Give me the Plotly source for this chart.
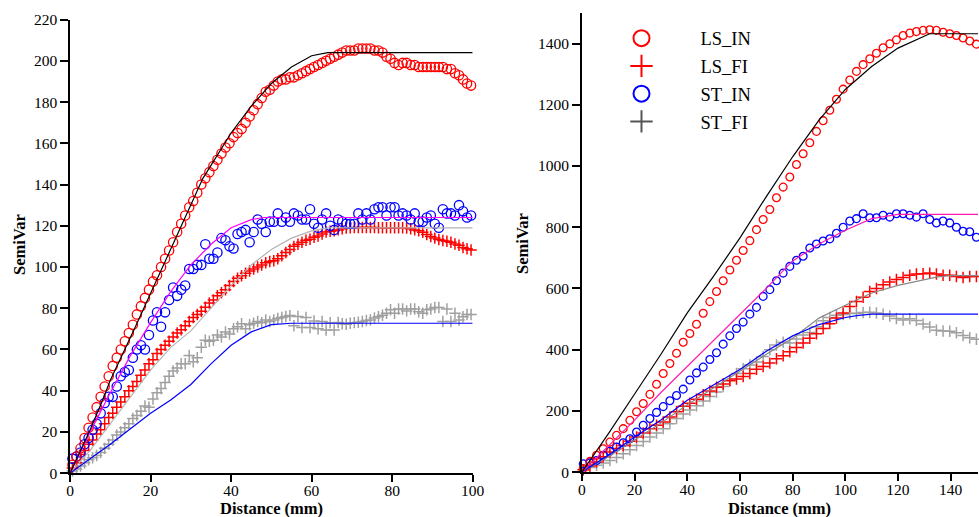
import plotly.graph_objects as go

# ---------------- Left panel data (lag distance in mm) ----------------
LAG_L = [round(0.6 + i, 1) for i in range(100)]

LS_IN_L = [4, 8, 12, 17, 22, 27, 32, 37, 42, 47,
           52, 56, 60, 64, 68, 72, 77, 81, 85, 89,
           93, 96, 100, 104, 108, 112, 117, 121, 125, 129,
           132, 136, 140, 143, 146, 149, 152, 155, 158, 160,
           163, 165, 167, 170, 173, 176, 179, 182, 185, 186,
           188, 190, 191, 191, 192, 192, 193, 194, 195, 196,
           197, 198, 199, 200, 201, 202, 203, 204, 205, 205,
           205, 206, 206, 206, 206, 205, 205, 204, 202, 201,
           199, 198, 199, 199, 198, 198, 197, 197, 197, 197,
           197, 197, 197, 196, 196, 194, 193, 191, 189, 188]

LS_FI_L = [2.5, 5, 9, 11, 14, 16, 19, 21, 24, 27,
           29, 32, 34.5, 37, 40, 42, 44.5, 47.5, 50, 53,
           55, 58, 60, 62, 64, 66, 68, 69.5, 71.5, 73.5,
           75.5, 77, 78.5, 80.5, 82.5, 84, 86, 87.5, 89, 91,
           93, 94.5, 95.8, 97, 98, 99, 100, 101, 102, 102.7,
           103, 104, 105.5, 107, 108.5, 110, 111, 112, 113, 113.5,
           114.4, 115, 116, 117, 117.3, 117.6, 118, 118.5, 118.9, 119,
           119.2, 119.2, 119.2, 119.2, 119.2, 119.2, 119, 119, 119, 119,
           119, 119, 119, 118.9, 118.5, 118, 117.6, 116.8, 115.8, 114.8,
           114, 113.3, 112.9, 112.5, 112, 111.2, 110.5, 109.5, 108.8, 108.2]

ST_IN_L = [7, 8, 10, 14, 17, 21, 24, 29, 34, 37,
           37, 42, 47, 49, 50, 56, 60, 62, 60, 67,
           74, 78, 71, 78, 84, 90, 86, 89, 91, 99,
           99, 101, 101, 111, 104, 104, 107, 114, 113, 110,
           109, 116, 117, 118, 112, 117, 123, 121, 117, 122,
           122, 126, 122, 124, 122, 126, 125, 123, 123, 128,
           121, 119, 123, 126, 120, 118, 123, 122, 121, 121,
           121, 126, 123, 126, 123, 128, 129, 129, 125, 129,
           129, 125, 126, 125, 123, 126, 122, 122, 124, 125,
           121, 119, 128, 126, 126, 125, 130, 127, 124, 125]

ST_FI_L = [1, 2, 3.5, 5, 6.5, 7.5, 8.5, 10, 12, 14,
           16, 18.5, 20, 22, 24, 26.5, 28, 30, 32.5, 32,
           36, 39, 41, 44, 47, 49.5, 51, 53, 53, 57,
           54, 56, 61, 64.5, 64, 64.5, 67, 66, 68.5, 67.5,
           70, 71, 72.5, 70, 72, 72.7, 73.5, 73, 74.3, 73.5,
           74.3, 75, 75.5, 76, 76.4, 71.5, 76, 70.6, 75.5, 70.6,
           73.8, 70, 73.5, 69.4, 73, 69.4, 73.1, 72.5, 72.2, 72.7,
           73, 73.2, 73.5, 74, 74.3, 75.2, 75.9, 76.6, 77.5, 79.2,
           77.5, 79.6, 79.6, 78.7, 79.6, 79.6, 78.3, 77.5, 79.2, 79.6,
           80.3, 80.3, 73.5, 79.6, 73.5, 77.5, 74.3, 75.9, 77, 77]

# fitted model curves, left panel
FIT_LS_IN_L_X = [0, 5, 8, 10, 16, 20, 24, 28, 33, 40, 45, 50, 55, 60, 64, 100]
FIT_LS_IN_L_Y = [0, 21, 35, 45, 70, 87, 104, 121, 143, 165, 178, 189, 197, 202.5, 204, 204]
FIT_ST_IN_L_X = [0, 5, 10, 15, 20, 25, 30, 35, 40, 45, 48, 100]
FIT_ST_IN_L_Y = [0, 20, 39, 57, 73, 88, 101, 111, 119, 123, 124, 124]
FIT_LS_FI_L_X = [0, 5, 10, 15, 20, 25, 30, 35, 40, 45, 50, 55, 60, 64, 100]
FIT_LS_FI_L_Y = [0, 11, 24, 37, 50, 61, 69, 80, 91, 101, 108.5, 114, 117.5, 119, 119]
FIT_ST_FI_L_X = [0, 5, 10, 15, 20, 25, 30, 35, 40, 45, 50, 55, 100]
FIT_ST_FI_L_Y = [0, 7, 14, 21.5, 29, 35.5, 43, 53, 62, 68.5, 72, 72.7, 72.7]

# ---------------- Right panel data ----------------
LAG_R = [round(0.5 + 2.53 * i, 2) for i in range(60)]

LS_IN_R = [12, 35, 55, 76, 98, 120, 142, 169, 197, 224,
           254, 287, 322, 355, 388, 424, 453, 483, 519, 557,
           590, 625, 660, 692, 724, 756, 792, 825, 858, 896,
           931, 964, 1005, 1040, 1076, 1113, 1148, 1182, 1218, 1251,
           1281, 1309, 1331, 1350, 1368, 1386, 1399, 1412, 1426, 1434,
           1439, 1443, 1445, 1443, 1437, 1432, 1426, 1418, 1408, 1398]

LS_FI_R = [8, 20, 33, 50, 66, 77, 87, 101, 115, 128,
           142, 153, 164, 180, 197, 215, 225, 238, 253, 265,
           277, 288, 298, 304, 312, 322, 336, 345, 356, 370,
           380, 393, 407, 422, 437, 452, 469, 485, 503, 520,
           541, 557, 571, 590, 600, 612, 621, 629, 636, 643,
           647, 648, 650, 647, 643, 643, 639, 636, 639, 639]

ST_IN_R = [27, 30, 38, 55, 68, 82, 96, 109, 131, 153,
           175, 195, 214, 233, 250, 271, 301, 324, 343, 368,
           390, 418, 445, 469, 490, 516, 538, 574, 596, 625,
           650, 672, 692, 705, 732, 745, 755, 762, 780, 800,
           820, 828, 844, 831, 831, 839, 833, 844, 844, 839,
           833, 844, 825, 814, 820, 814, 800, 787, 785, 767]

ST_FI_R = [8, 15, 22, 30, 38, 48, 60, 73, 87, 100,
           115, 128, 142, 158, 175, 190, 203, 217, 232, 247,
           262, 280, 300, 322, 338, 350, 360, 378, 400, 415,
           424, 422, 435, 448, 456, 475, 494, 505, 512, 515,
           518, 519, 521, 522, 520, 516, 510, 502, 497, 501,
           495, 484, 474, 463, 461, 460, 455, 446, 439, 434]

FIT_LS_IN_R_X = [0, 2, 5, 10, 20, 30, 40, 50, 60, 70, 80, 90, 100, 110, 120, 125, 132, 150.4]
FIT_LS_IN_R_Y = [0, 25, 62, 125, 255, 385, 520, 640, 765, 900, 1030, 1150, 1250, 1325, 1385, 1405, 1432, 1432]
FIT_ST_IN_R_X = [0, 10, 20, 30, 40, 50, 60, 70, 80, 90, 100, 110, 120, 150.4]
FIT_ST_IN_R_Y = [0, 85, 170, 260, 345, 430, 515, 600, 690, 745, 790, 828, 842, 842]
FIT_LS_FI_R_X = [0, 10, 20, 30, 40, 50, 60, 70, 80, 90, 100, 110, 120, 130, 135, 140, 150.4]
FIT_LS_FI_R_Y = [0, 50, 105, 160, 220, 275, 330, 385, 437, 503, 545, 585, 610, 628, 638, 642, 642]
FIT_ST_FI_R_X = [0, 10, 20, 30, 40, 50, 60, 70, 80, 90, 100, 105, 110, 150.4]
FIT_ST_FI_R_Y = [0, 55, 115, 170, 235, 285, 335, 395, 445, 482, 505, 512, 516, 516]

SERIES_NAMES = ["LS_IN", "LS_FI", "ST_IN", "ST_FI"]

RED = "#FF0000"
BLUE = "#0000FF"
GRAY = "#A0A0A0"
FONT = "Liberation Serif, Times New Roman, Times, DejaVu Serif, serif"

# calibration between figure pixels and the photographed picture
SX, OX = 0.986, 2.8
SY, OY = 0.9646, 8.4
W, H = 990, 527


def dx(px):
    return (px - OX) / SX


def dy(py):
    return (py - OY) / SY


def fx(px):
    return dx(px) / W


def fy(py):
    return 1 - dy(py) / H


fig = go.Figure()


def markers(x, y, symbol, color, size, lw, xa, ya):
    fig.add_trace(go.Scatter(
        x=x, y=y, mode="markers", showlegend=False, cliponaxis=False,
        xaxis=xa, yaxis=ya, hoverinfo="skip",
        marker=dict(symbol=symbol, size=size, color=color,
                    line=dict(color=color, width=lw))))


def line(x, y, color, w, xa, ya):
    fig.add_trace(go.Scatter(
        x=x, y=y, mode="lines", showlegend=False, cliponaxis=False,
        xaxis=xa, yaxis=ya, hoverinfo="skip",
        line=dict(color=color, width=w)))


# left panel
markers(LAG_L, ST_FI_L, "cross-thin-open", GRAY, 8.2, 1.5, "x", "y")
markers(LAG_L, LS_FI_L, "cross-thin-open", RED, 8.2, 1.5, "x", "y")
markers(LAG_L, ST_IN_L, "circle-open", BLUE, 9.3, 1.3, "x", "y")
markers(LAG_L, LS_IN_L, "circle-open", RED, 9.3, 1.3, "x", "y")
line(FIT_LS_FI_L_X, FIT_LS_FI_L_Y, "#B4B4B4", 1.2, "x", "y")
line(FIT_ST_FI_L_X, FIT_ST_FI_L_Y, BLUE, 1.2, "x", "y")
line(FIT_ST_IN_L_X, FIT_ST_IN_L_Y, "#FF00FF", 1.2, "x", "y")
line(FIT_LS_IN_L_X, FIT_LS_IN_L_Y, "black", 1.2, "x", "y")

# right panel
markers(LAG_R, ST_FI_R, "cross-thin-open", GRAY, 8.2, 1.5, "x2", "y2")
markers(LAG_R, LS_FI_R, "cross-thin-open", RED, 8.2, 1.5, "x2", "y2")
markers(LAG_R, ST_IN_R, "circle-open", BLUE, 7.8, 1.3, "x2", "y2")
markers(LAG_R, LS_IN_R, "circle-open", RED, 7.8, 1.3, "x2", "y2")
line(FIT_LS_FI_R_X, FIT_LS_FI_R_Y, "#888888", 1.2, "x2", "y2")
line(FIT_ST_FI_R_X, FIT_ST_FI_R_Y, BLUE, 1.2, "x2", "y2")
line(FIT_ST_IN_R_X, FIT_ST_IN_R_Y, "#FF1CAE", 1.2, "x2", "y2")
line(FIT_LS_IN_R_X, FIT_LS_IN_R_Y, "black", 1.2, "x2", "y2")

# legend entries
LEG_STYLE = [("circle-open", RED), ("cross-thin-open", RED),
             ("circle-open", BLUE), ("cross-thin-open", "#555555")]
for name, (sym, col) in zip(SERIES_NAMES, LEG_STYLE):
    fig.add_trace(go.Scatter(
        x=[None], y=[None], mode="markers", name=name, legendgroup=name,
        xaxis="x2", yaxis="y2",
        marker=dict(symbol=sym, size=16, color=col, line=dict(color=col, width=2))))

axis_common = dict(showline=True, linecolor="black", linewidth=1.5,
                   ticks="outside", tickwidth=1.5, tickcolor="black",
                   showgrid=False, zeroline=False,
                   tickfont=dict(family=FONT, size=15.5, color="black"))
xaxis_extra = dict(ticklen=7, ticklabelstandoff=-4)
yaxis_extra = dict(ticklen=8)

R_XMAX = (979 - 582) / 2.64   # right axis runs to the picture edge

TITLE_FONT = dict(family=FONT, size=16.5, color="black")

fig.update_layout(
    width=W, height=H, margin=dict(l=0, r=0, t=0, b=0, pad=0),
    autosize=False,
    paper_bgcolor="white", plot_bgcolor="white",
    font=dict(family=FONT, color="black"),
    xaxis=dict(domain=[fx(69), fx(472.5)], range=[0, 100], dtick=20,
               anchor="y", **axis_common, **xaxis_extra),
    yaxis=dict(domain=[fy(471), fy(19)], range=[0, 220], dtick=20,
               anchor="x", **axis_common, **yaxis_extra),
    xaxis2=dict(domain=[fx(582), 1.0], range=[0, R_XMAX], dtick=20,
                anchor="y2", **axis_common, **xaxis_extra),
    yaxis2=dict(domain=[fy(470), fy(12.3)], range=[0, 1500], dtick=200,
                anchor="x2", **axis_common, **yaxis_extra),
    showlegend=True,
    legend=dict(x=588 / W, y=1 - 11 / H, xanchor="left", yanchor="top",
                bgcolor="rgba(0,0,0,0)", borderwidth=0,
                traceorder="grouped", tracegroupgap=0.7, itemwidth=108,
                font=dict(family=FONT, size=18.5, color="black")),
    annotations=[
        dict(text="<b>Distance (mm)</b>", x=fx(270.5), y=fy(506),
             xanchor="center", yanchor="middle", borderpad=0,
             xref="paper", yref="paper", showarrow=False, font=TITLE_FONT),
        dict(text="<b>Distance (mm)</b>", x=fx(780), y=fy(506),
             xanchor="center", yanchor="middle", borderpad=0,
             xref="paper", yref="paper", showarrow=False, font=TITLE_FONT),
        dict(text="<b>SemiVar</b>", x=fx(18.5), y=fy(243), textangle=-90,
             xanchor="center", yanchor="middle", borderpad=0,
             xref="paper", yref="paper", showarrow=False, font=TITLE_FONT),
        dict(text="<b>SemiVar</b>", x=fx(522.5), y=fy(242), textangle=-90,
             xanchor="center", yanchor="middle", borderpad=0,
             xref="paper", yref="paper", showarrow=False, font=TITLE_FONT),
    ],
)

fig.write_html("out.html")
